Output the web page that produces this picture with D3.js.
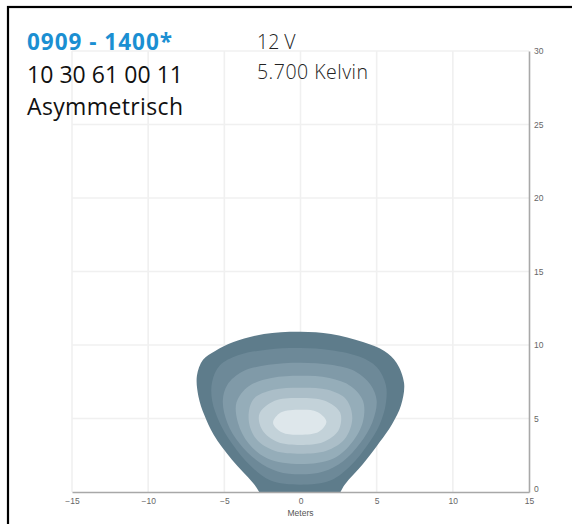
<!DOCTYPE html>
<html><head><meta charset="utf-8">
<script src="https://cdn.jsdelivr.net/npm/d3@7"></script>
<style>body{margin:0;background:#fff}svg{display:block}</style>
</head><body>
<svg id="c" width="572" height="524"></svg>
<script>
// ---- data ----
const titleLines = ["0909 - 1400*", "10 30 61 00 11", "Asymmetrisch"];
const infoLines = ["12 V", "5.700 Kelvin"];
const xTicks = [-15, -10, -5, 0, 5, 10, 15];
const yTicks = [0, 5, 10, 15, 20, 25, 30];
const xLabel = "Meters";
// iso-illuminance contours (meters), outer -> inner
const contour0 = [[0,10.9],[2,10.75],[4.1,10.2],[5.5,9.6],[6.3,8.8],[6.8,7.4],[6.6,5.9],[6.0,4.6],[5.2,3.4],[4.1,1.9],[2.9,0.5],[2.2,-0.6],[0,-1.2],[-2.2,-0.6],[-3.1,0.6],[-4.5,2.2],[-5.7,3.9],[-6.3,5.2],[-6.7,6.5],[-6.8,7.9],[-6.4,9.0],[-5.6,9.6],[-4.4,10.2],[-2.4,10.75]];
const contour1 = [[0,9.8],[2,9.65],[3.9,9.2],[5.0,8.5],[5.6,7.3],[5.6,6.0],[5.2,4.6],[4.4,3.2],[3.3,1.8],[2.0,0.8],[0,0.5],[-2.0,0.8],[-3.3,1.8],[-4.5,3.3],[-5.3,4.7],[-5.8,6.2],[-5.8,7.5],[-5.3,8.6],[-4.1,9.3],[-2.1,9.7]];
const contour2 = [[0,8.8],[2,8.65],[3.6,8.2],[4.6,7.3],[5.0,6.2],[4.7,4.7],[3.9,3.3],[2.8,2.1],[1.5,1.4],[0,1.2],[-1.5,1.4],[-2.8,2.1],[-4.0,3.3],[-4.8,4.7],[-5.1,6.2],[-4.8,7.3],[-3.8,8.2],[-2.1,8.65]];
const contour3 = [[0,7.9],[1.9,7.75],[3.3,7.2],[4.1,6.2],[4.1,4.8],[3.4,3.4],[2.2,2.3],[0,1.9],[-2.2,2.3],[-3.4,3.3],[-4.1,4.7],[-4.2,6.1],[-3.4,7.2],[-1.9,7.75]];
const contour4 = [[0,7.1],[1.8,6.95],[3.0,6.3],[3.4,5.0],[2.9,3.6],[1.7,2.8],[0,2.6],[-1.7,2.8],[-2.9,3.6],[-3.4,4.9],[-3.1,6.3],[-1.8,6.95]];
const contour5 = [[0,6.4],[1.6,6.2],[2.6,5.4],[2.5,4.2],[1.5,3.4],[0,3.2],[-1.5,3.4],[-2.5,4.2],[-2.7,5.3],[-1.7,6.2]];
const contour6 = [[0,5.6],[1.1,5.45],[1.7,4.8],[1.2,4.1],[0,3.9],[-1.2,4.05],[-1.8,4.7],[-1.3,5.4]];
const contours = [contour0, contour1, contour2, contour3, contour4, contour5, contour6];
const contourColors = ["#5e7c8b", "#6d8998", "#809aa8", "#95adb9", "#abbec8", "#c3d2d9", "#dee7eb"];

// ---- layout ----
const svg = d3.select("#c");
const x = d3.scaleLinear().domain([-15, 15]).range([72, 529]);
const y = d3.scaleLinear().domain([0, 30]).range([492, 51]);

// frame
svg.append("rect").attr("x", 8).attr("y", 7).attr("width", 600).attr("height", 560)
  .attr("fill", "none").attr("stroke", "#000").attr("stroke-width", 2.2);

// grid
const grid = svg.append("g").attr("stroke", "#f0f0f0").attr("stroke-width", 1.6);
grid.selectAll("line.v").data(xTicks.slice(0, -1)).join("line")
  .attr("x1", d => x(d)).attr("x2", d => x(d)).attr("y1", y(30)).attr("y2", y(0));
grid.selectAll("line.h").data(yTicks.slice(1)).join("line")
  .attr("x1", x(-15)).attr("x2", x(15)).attr("y1", d => y(d)).attr("y2", d => y(d));

// contours
svg.append("clipPath").attr("id", "clip").append("rect")
  .attr("x", x(-15)).attr("y", y(30)).attr("width", x(15) - x(-15)).attr("height", y(0) - y(30));
const line = d3.line().x(d => x(d[0])).y(d => y(d[1])).curve(d3.curveCatmullRomClosed.alpha(0.5));
svg.append("g").attr("clip-path", "url(#clip)")
  .selectAll("path").data(contours).join("path")
  .attr("d", line).attr("fill", (d, i) => contourColors[i]);

// axes
const xAxis = svg.append("g").attr("transform", `translate(0,${y(0)})`)
  .call(d3.axisBottom(x).tickValues(xTicks).tickSize(0).tickPadding(6));
const yAxis = svg.append("g").attr("transform", `translate(${x(15)},0)`)
  .call(d3.axisRight(y).tickValues(yTicks).tickSize(0).tickPadding(5));
[xAxis, yAxis].forEach(g => {
  g.select(".domain").attr("stroke", "#a8a8a8").attr("stroke-width", 1.6);
  g.selectAll("text").attr("fill", "#666").attr("font-family", "Liberation Sans, Arial, sans-serif").attr("font-size", 8.5);
});
yAxis.selectAll(".tick").filter(d => d === 0).select("text").attr("dy", "-0.05em");
svg.append("text").attr("x", x(0)).attr("y", 516).attr("text-anchor", "middle")
  .attr("font-family", "Liberation Sans, Arial, sans-serif").attr("font-size", 8.5).attr("fill", "#555")
  .text(xLabel);

// titles
const tfont = "'Open Sans', 'Noto Sans', sans-serif";
svg.append("text").attr("x", 27).attr("y", 50).attr("font-family", tfont).attr("font-weight", 700)
  .attr("font-size", 22.5).attr("fill", "#1b8fd2").attr("textLength", 145).attr("lengthAdjust", "spacing")
  .text(titleLines[0]);
svg.append("text").attr("x", 27).attr("y", 83).attr("font-family", tfont)
  .attr("font-size", 23).attr("fill", "#111").attr("textLength", 156).attr("lengthAdjust", "spacing")
  .text(titleLines[1]);
svg.append("text").attr("x", 27).attr("y", 115).attr("font-family", tfont)
  .attr("font-size", 23).attr("fill", "#111").attr("textLength", 156).attr("lengthAdjust", "spacing")
  .text(titleLines[2]);
svg.append("text").attr("x", 257).attr("y", 49).attr("font-family", tfont).attr("font-weight", 300)
  .attr("font-size", 19.5).attr("fill", "#222").text(infoLines[0]);
svg.append("text").attr("x", 257).attr("y", 79).attr("font-family", tfont).attr("font-weight", 300)
  .attr("font-size", 19.5).attr("fill", "#222").attr("textLength", 111).attr("lengthAdjust", "spacing")
  .text(infoLines[1]);
</script>
</body></html>
